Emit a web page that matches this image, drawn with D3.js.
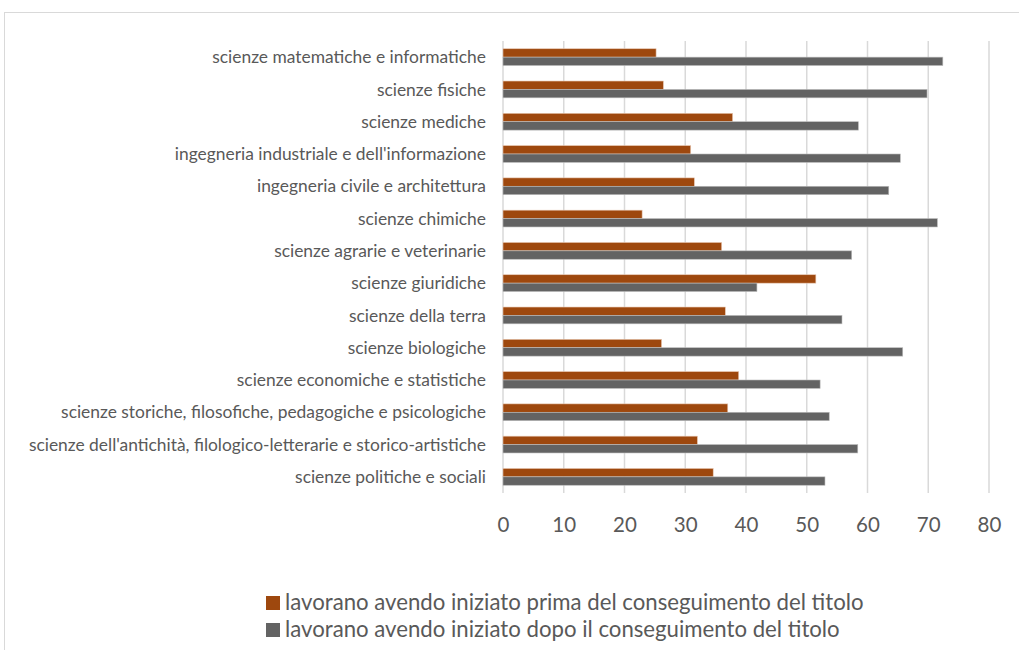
<!DOCTYPE html>
<html>
<head>
<meta charset="utf-8">
<script src="https://cdn.jsdelivr.net/npm/d3@7"></script>
<style>
  body { margin: 0; background: #fff; }
  text { font-family: Lato, "Open Sans", sans-serif; }
</style>
</head>
<body>
<script>
// categories, top to bottom as shown
var categories = [
  "scienze matematiche e informatiche",
  "scienze fisiche",
  "scienze mediche",
  "ingegneria industriale e dell'informazione",
  "ingegneria civile e architettura",
  "scienze chimiche",
  "scienze agrarie e veterinarie",
  "scienze giuridiche",
  "scienze della terra",
  "scienze biologiche",
  "scienze economiche e statistiche",
  "scienze storiche, filosofiche, pedagogiche e psicologiche",
  "scienze dell'antichità, filologico-letterarie e storico-artistiche",
  "scienze politiche e sociali"
];
var prima = [25.2, 26.4, 37.8, 30.9, 31.5, 22.9, 36.0, 51.5, 36.6, 26.1, 38.8, 37.0, 32.0, 34.6];
var dopo  = [72.4, 69.8, 58.5, 65.4, 63.5, 71.5, 57.4, 41.8, 55.8, 65.8, 52.2, 53.7, 58.4, 53.0];
var ticks = [0, 10, 20, 30, 40, 50, 60, 70, 80];
var seriesNames = [
  "lavorano avendo iniziato prima del conseguimento del titolo",
  "lavorano avendo iniziato dopo il conseguimento del titolo"
];
var colors = ["#9e480e", "#636363"];

var width = 1019;
var height = 650;

var svg = d3.select("body")
  .append("svg")
  .attr("width", width)
  .attr("height", height);

// chart frame
svg.append("rect")
  .attr("x", 4.5).attr("y", 12.5)
  .attr("width", 1040).attr("height", 660)
  .attr("fill", "none")
  .attr("stroke", "#d9d9d9");

var x = d3.scaleLinear().domain([0, 80]).range([503, 989]);
var y = d3.scaleBand().domain(categories).range([41, 493]);
var mid = y.bandwidth() / 2;
var sub = d3.scaleBand().domain([0, 1]).range([mid - 8.4, mid + 8.4]);

// gridlines
svg.append("g")
  .selectAll("line")
  .data(ticks)
  .enter()
  .append("line")
  .attr("x1", d => x(d)).attr("x2", d => x(d))
  .attr("y1", 41).attr("y2", 493)
  .attr("stroke", "#d9d9d9")
  .attr("stroke-width", 1.5);

// bars
var rows = svg.append("g")
  .selectAll("g")
  .data(categories)
  .enter()
  .append("g")
  .attr("transform", d => "translate(0," + y(d) + ")");

rows.append("rect")
  .attr("x", x(0))
  .attr("y", sub(0))
  .attr("height", sub.bandwidth())
  .attr("width", (d, i) => x(prima[i]) - x(0))
  .attr("fill", colors[0])
  .attr("stroke", "#e8c8b4").attr("stroke-width", 0.6);

rows.append("rect")
  .attr("x", x(0))
  .attr("y", sub(1))
  .attr("height", sub.bandwidth())
  .attr("width", (d, i) => x(dopo[i]) - x(0))
  .attr("fill", colors[1])
  .attr("stroke", "#bbbbbb").attr("stroke-width", 0.6);

// category labels
rows.append("text")
  .attr("x", 486)
  .attr("y", mid)
  .attr("dy", "0.35em")
  .attr("text-anchor", "end")
  .attr("font-size", 17.4)
  .attr("fill", "#595959")
  .text(d => d);

// x axis tick labels
var xAxis = d3.axisBottom(x).tickValues(ticks).tickSize(0).tickPadding(0);
var gx = svg.append("g")
  .attr("transform", "translate(0,525)")
  .call(xAxis);
gx.select(".domain").remove();
gx.selectAll("text")
  .attr("dy", "0.35em")
  .attr("font-size", 20.5)
  .attr("font-family", "Lato, sans-serif")
  .attr("fill", "#595959");

// legend
var legend = svg.append("g")
  .selectAll("g")
  .data(seriesNames)
  .enter()
  .append("g")
  .attr("transform", (d, i) => "translate(266," + (610 + i * 27) + ")");

legend.append("rect")
  .attr("x", 0).attr("y", -14)
  .attr("width", 14).attr("height", 14)
  .attr("fill", (d, i) => colors[i]);

legend.append("text")
  .attr("x", 19)
  .attr("font-size", 22.2)
  .attr("fill", "#595959")
  .text(d => d);
</script>
</body>
</html>
